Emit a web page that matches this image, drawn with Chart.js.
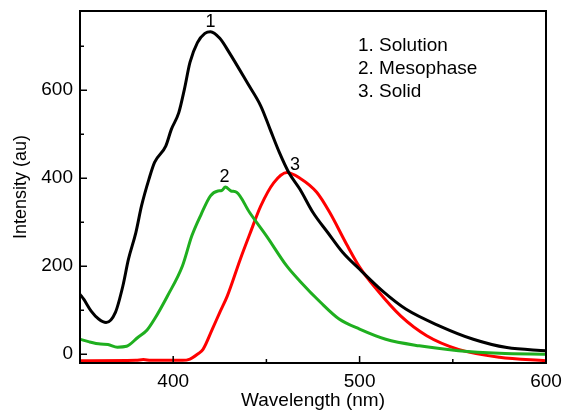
<!DOCTYPE html>
<html>
  <head>
    <title>Emission spectra</title>
    <style>
      body {
        margin: 0;
        background: #fff;
      }
      .chart-container {
        position: relative;
        width: 563px;
        height: 414px;
      }
    </style>
  </head>
  <body>
    <div class="chart-container">
      <canvas id="pl-chart"></canvas>
    </div>

    <script src="https://cdn.jsdelivr.net/npm/chart.js"></script>
    <script>
      // Data
      var solutionX = [350, 352, 356, 360, 364, 369, 373, 376, 380, 383, 387, 390, 396, 399, 403, 406, 409, 413, 417, 420, 425, 430, 440, 447, 452, 457, 462, 468, 475, 483, 491, 500, 513, 525, 543, 561, 579, 600]
      var solutionY = [136, 125, 98, 80, 72, 95, 155, 216, 277, 337, 398, 436, 473, 511, 549, 602, 663, 708, 729, 733, 718, 686, 615, 564, 511, 458, 413, 375, 322, 276, 231, 193, 141, 102, 64, 34, 15, 8]

      var mesoX = [350, 355, 361, 365, 370, 375, 381, 386, 390, 397, 405, 410, 415, 420, 424, 426, 428, 431, 434, 441, 450, 461, 468, 479, 489, 500, 514, 532, 553, 575, 600]
      var mesoY = [34, 28, 23, 22, 16, 18, 38, 55, 80, 133, 201, 269, 318, 360, 371, 372, 380, 371, 368, 322, 269, 200, 166, 118, 80, 57, 34, 19, 8, 2, 0]

      var solidX = [350, 380, 384, 388, 405, 409, 413, 416, 421, 425, 429, 436, 441, 447, 454, 461, 468, 477, 484, 493, 500, 509, 522, 536, 553, 575, 600]
      var solidY = [-15, -14, -12, -14, -14, -11, 0, 11, 57, 95, 132, 216, 272, 337, 390, 413, 400, 368, 322, 250, 198, 148, 87, 42, 11, -7, -15]

      var seriesNames = ["1. Solution", "2. Mesophase", "3. Solid"]
      var peakLabels = ["1", "2", "3"]
      var xMajorTicks = [400, 500, 600]
      var xMinorTicks = [450, 550]
      var yMajorTicks = [0, 200, 400, 600]
      var yMinorTicks = [100, 300, 500, 700]

      function toPoints(xs, ys) {
        return xs.map(function (x, i) {
          return { x: x, y: ys[i] }
        })
      }

      var FONT = "'Liberation Sans', Arial, sans-serif"

      // frame, inside ticks, peak numbers and the text legend
      var decorations = {
        id: "decorations",
        afterDatasetsDraw: function (chart) {
          var ctx = chart.ctx
          var a = chart.chartArea
          var xs = chart.scales.x
          var ys = chart.scales.y
          ctx.save()
          ctx.strokeStyle = "#000"
          ctx.lineWidth = 2
          ctx.strokeRect(a.left, a.top, a.right - a.left, a.bottom - a.top)

          ctx.lineWidth = 1.5
          ctx.beginPath()
          xMajorTicks.concat(xMinorTicks).forEach(function (v) {
            var len = xMajorTicks.indexOf(v) >= 0 ? 7 : 4
            var px = xs.getPixelForValue(v)
            ctx.moveTo(px, a.bottom)
            ctx.lineTo(px, a.bottom - len)
          })
          yMajorTicks.concat(yMinorTicks).forEach(function (v) {
            var len = yMajorTicks.indexOf(v) >= 0 ? 7 : 4
            var py = ys.getPixelForValue(v)
            ctx.moveTo(a.left, py)
            ctx.lineTo(a.left + len, py)
          })
          ctx.stroke()

          ctx.fillStyle = "#000"
          ctx.font = "18px " + FONT
          ctx.textAlign = "center"
          ctx.textBaseline = "alphabetic"
          var dx = [0, -1, 8]
          var dy = [5, 5, 2]
          chart.data.datasets.forEach(function (ds, i) {
            var top = ds.data.reduce(function (m, p) {
              return p.y > m.y ? p : m
            })
            var px = xs.getPixelForValue(top.x) + dx[i]
            var py = ys.getPixelForValue(top.y) - dy[i]
            ctx.fillText(peakLabels[i], px, py)
          })

          ctx.font = "19px " + FONT
          ctx.textAlign = "left"
          ctx.textBaseline = "middle"
          seriesNames.forEach(function (name, i) {
            ctx.fillText(name, a.left + 278, a.top + 35 + i * 23)
          })
          ctx.restore()
        },
      }

      function noEdgePadding(s) {
        s.paddingLeft = 0
        s.paddingRight = 0
        s.paddingTop = 0
        s.paddingBottom = 0
      }

      var config = {
        type: "line",
        data: {
          datasets: [
            { label: seriesNames[0], data: toPoints(solutionX, solutionY), borderColor: "#000000" },
            { label: seriesNames[1], data: toPoints(mesoX, mesoY), borderColor: "#1faf1f" },
            { label: seriesNames[2], data: toPoints(solidX, solidY), borderColor: "#ff0000" },
          ],
        },
        options: {
          responsive: true,
          maintainAspectRatio: false,
          animation: false,
          layout: { padding: { top: 11, right: 17, left: 0, bottom: 0 } },
          elements: {
            point: { radius: 0 },
            line: { borderWidth: 3, cubicInterpolationMode: "monotone" },
          },
          plugins: {
            legend: { display: false },
            tooltip: { enabled: false },
          },
          scales: {
            x: {
              type: "linear",
              min: 350,
              max: 600,
              afterFit: function (s) {
                s.height = 51
                noEdgePadding(s)
              },
              afterBuildTicks: function (s) {
                s.ticks = xMajorTicks.map(function (v) {
                  return { value: v }
                })
              },
              grid: { display: false, drawTicks: false },
              border: { display: false },
              ticks: { color: "#000", font: { family: FONT, size: 19 }, padding: 7, maxRotation: 0 },
              title: {
                display: true,
                text: "Wavelength (nm)",
                color: "#000",
                font: { family: FONT, size: 19 },
                padding: { top: 0, bottom: 2 },
              },
            },
            y: {
              min: -20,
              max: 780,
              afterFit: function (s) {
                s.width = 80
                noEdgePadding(s)
              },
              afterBuildTicks: function (s) {
                s.ticks = yMajorTicks.map(function (v) {
                  return { value: v }
                })
              },
              grid: { display: false, drawTicks: false },
              border: { display: false },
              ticks: { color: "#000", font: { family: FONT, size: 19 }, padding: 7 },
              title: {
                display: true,
                text: "Intensity (au)",
                color: "#000",
                font: { family: FONT, size: 18 },
                padding: { top: 10, bottom: 0 },
              },
            },
          },
        },
        plugins: [decorations],
      }

      var ctx = document.getElementById("pl-chart").getContext("2d")
      new Chart(ctx, config)
    </script>
  </body>
</html>
